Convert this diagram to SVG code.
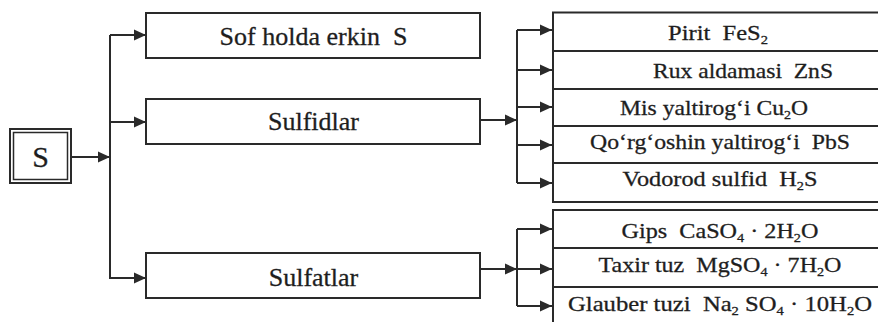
<svg xmlns="http://www.w3.org/2000/svg" width="878" height="322" viewBox="0 0 878 322">
<style>
.box{fill:#fff;stroke:#2a2a2a;stroke-width:2}
.thin{fill:none;stroke:#2a2a2a;stroke-width:1.5}
.ln{fill:none;stroke:#2a2a2a;stroke-width:2}
.arr{marker-end:url(#ah)}
text{font-family:'Liberation Serif','Times New Roman',Times,serif;fill:#1e1e1e;text-anchor:middle;stroke:#1e1e1e;stroke-width:0.3}
.big{font-size:26px}
.sm{font-size:22px}
.sub{font-size:13px}
</style>
<defs>
<marker id="ah" viewBox="0 0 12 12" refX="12" refY="6" markerWidth="12" markerHeight="12" markerUnits="userSpaceOnUse" orient="auto">
<path d="M0,0.5 L12,6 L0,11.5 z" fill="#2a2a2a"/>
</marker>
</defs>
<rect width="878" height="322" fill="#fff"/>

<g id="connectors">
<path class="ln arr" d="M71,157 H110"/>
<path class="ln" d="M110,35 V279"/>
<path class="ln arr" d="M110,35 H146"/>
<path class="ln arr" d="M110,122 H146"/>
<path class="ln arr" d="M110,278 H146"/>

<path class="ln arr" d="M480,120 H517"/>
<path class="ln" d="M517,30 V183"/>
<path class="ln arr" d="M517,30 H552"/>
<path class="ln arr" d="M517,70 H552"/>
<path class="ln arr" d="M517,107 H552"/>
<path class="ln arr" d="M517,145 H552"/>
<path class="ln arr" d="M517,183 H552"/>

<path class="ln arr" d="M480,269 H517"/>
<path class="ln" d="M517,229 V306"/>
<path class="ln arr" d="M517,229 H552"/>
<path class="ln arr" d="M517,269 H552"/>
<path class="ln arr" d="M517,306 H552"/>
</g>

<g id="node-S">
<rect class="box" x="10" y="129" width="61" height="54"/>
<rect class="thin" x="13.5" y="132.5" width="54" height="47"/>
<text x="40.5" y="167" font-family="Liberation Serif, serif" font-size="30">S</text>
</g>

<g id="node-sof">
<rect class="box" x="146" y="13" width="334" height="45"/>
<text class="big" x="313.5" y="45" font-family="Liberation Serif, serif" xml:space="preserve">Sof holda erkin  S</text>
</g>

<g id="node-sulfidlar">
<rect class="box" x="146" y="99" width="334" height="45"/>
<text class="big" x="313.5" y="130" font-family="Liberation Serif, serif">Sulfidlar</text>
</g>

<g id="node-sulfatlar">
<rect class="box" x="146" y="253" width="334" height="45"/>
<text class="big" x="313.5" y="286" font-family="Liberation Serif, serif">Sulfatlar</text>
</g>

<g id="node-pirit">
<rect class="box" x="553" y="12.5" width="340" height="38.5"/>
<text class="sm" x="718" y="40" font-family="Liberation Serif, serif" textLength="100" lengthAdjust="spacingAndGlyphs" xml:space="preserve">Pirit  FeS<tspan class="sub" dy="4">2</tspan></text>
</g>

<g id="node-rux">
<rect class="box" x="553" y="51" width="340" height="38"/>
<text class="sm" x="743" y="78" font-family="Liberation Serif, serif" textLength="180" lengthAdjust="spacingAndGlyphs" xml:space="preserve">Rux aldamasi  ZnS</text>
</g>

<g id="node-mis">
<rect class="box" x="553" y="89" width="340" height="37"/>
<text class="sm" x="714" y="115" font-family="Liberation Serif, serif" textLength="188" lengthAdjust="spacingAndGlyphs" xml:space="preserve">Mis yaltirog‘i Cu<tspan class="sub" dy="4">2</tspan><tspan dy="-4">O</tspan></text>
</g>

<g id="node-qorgoshin">
<rect class="box" x="553" y="126" width="340" height="37"/>
<text class="sm" x="720" y="149" font-family="Liberation Serif, serif" textLength="260" lengthAdjust="spacingAndGlyphs" xml:space="preserve">Qo‘rg‘oshin yaltirog‘i  PbS</text>
</g>

<g id="node-vodorod">
<rect class="box" x="553" y="163" width="340" height="39"/>
<text class="sm" x="720" y="186" font-family="Liberation Serif, serif" textLength="195" lengthAdjust="spacingAndGlyphs" xml:space="preserve">Vodorod sulfid  H<tspan class="sub" dy="4">2</tspan><tspan dy="-4">S</tspan></text>
</g>

<g id="node-gips">
<rect class="box" x="553" y="210" width="340" height="38"/>
<text class="sm" x="720" y="238" font-family="Liberation Serif, serif" textLength="197" lengthAdjust="spacingAndGlyphs" xml:space="preserve">Gips  CaSO<tspan class="sub" dy="4">4</tspan><tspan dy="-4"> · 2H</tspan><tspan class="sub" dy="4">2</tspan><tspan dy="-4">O</tspan></text>
</g>

<g id="node-taxir">
<rect class="box" x="553" y="248" width="340" height="39"/>
<text class="sm" x="720" y="272" font-family="Liberation Serif, serif" textLength="243" lengthAdjust="spacingAndGlyphs" xml:space="preserve">Taxir tuz  MgSO<tspan class="sub" dy="4">4</tspan><tspan dy="-4"> · 7H</tspan><tspan class="sub" dy="4">2</tspan><tspan dy="-4">O</tspan></text>
</g>

<g id="node-glauber">
<rect class="box" x="553" y="287" width="340" height="45"/>
<text class="sm" x="720" y="311" font-family="Liberation Serif, serif" textLength="304" lengthAdjust="spacingAndGlyphs" xml:space="preserve">Glauber tuzi  Na<tspan class="sub" dy="4">2</tspan><tspan dy="-4"> SO</tspan><tspan class="sub" dy="4">4</tspan><tspan dy="-4"> · 10H</tspan><tspan class="sub" dy="4">2</tspan><tspan dy="-4">O</tspan></text>
</g>
</svg>
